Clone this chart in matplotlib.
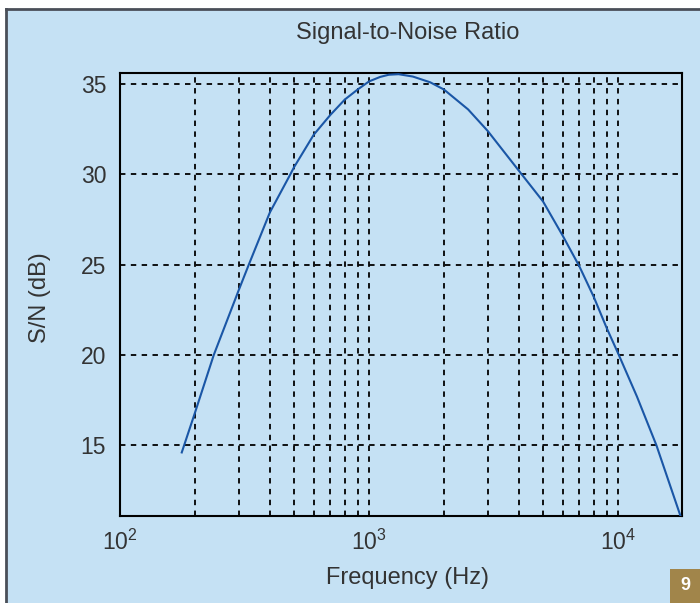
import matplotlib
matplotlib.use("Agg")
import matplotlib.pyplot as plt
from matplotlib.patches import Rectangle
from matplotlib.lines import Line2D

plt.rcParams['font.family'] = ['Liberation Sans', 'DejaVu Sans']
plt.rcParams['mathtext.fontset'] = 'custom'
plt.rcParams['mathtext.rm'] = 'Liberation Sans'
plt.rcParams['mathtext.it'] = 'Liberation Sans'

# values
freq_hz = [177, 200, 238, 300, 329, 400, 483, 500, 600, 700, 800, 900, 1000,
           1109, 1200, 1315, 1500, 1762, 2000, 2500, 3000, 4000, 5000, 6000,
           7000, 8000, 9000, 10000, 11910, 14260, 17800]
snr_db = [14.6, 16.8, 20.0, 23.6, 25.0, 27.9, 30.0, 30.4, 32.2, 33.3, 34.15,
          34.7, 35.15, 35.4, 35.52, 35.55, 35.42, 35.1, 34.7, 33.6, 32.4, 30.2,
          28.5, 26.6, 24.9, 23.2, 21.5, 20.1, 17.7, 15.0, 11.1]
y_ticks = [15, 20, 25, 30, 35]
x_ticks = [100, 1000, 10000]
x_tick_labels = [r'$10^2$', r'$10^3$', r'$10^4$']

bg = '#c5e1f4'
txt = '#333333'

fig = plt.figure(figsize=(7, 6.03), dpi=100)
fig.patch.set_facecolor('white')
fig.patches.append(Rectangle((6/700, 0), 1, 1 - 9/603, transform=fig.transFigure,
                             facecolor=bg, edgecolor='none', zorder=-2))
fig.lines.append(Line2D([6/700, 6/700], [0, 1 - 9/603], transform=fig.transFigure,
                        color='#4a4f58', lw=2))
fig.lines.append(Line2D([6/700, 1], [1 - 9/603, 1 - 9/603], transform=fig.transFigure,
                        color='#4a4f58', lw=2))
fig.patches.append(Rectangle((670/700, 0), 30/700, 34/603, transform=fig.transFigure,
                             facecolor='#a1854a', edgecolor='none'))
fig.text(685/700, 17/603, '9', color='white', fontsize=13, fontweight='bold',
         ha='center', va='center')

ax = fig.add_axes([120/700, 1 - 516/603, 562/700, 442.7/603])
ax.set_facecolor(bg)
ax.plot(freq_hz, snr_db, color='#1a56a6', lw=1.5, zorder=3)
ax.set_xscale('log')
ax.set_xlim(100, 18070)
ax.set_ylim(11.08, 35.6)
ax.set_yticks(y_ticks)
ax.set_xticks(x_ticks)
ax.set_xticklabels(x_tick_labels)
ax.tick_params(axis='both', which='both', length=0, labelsize=16.5, labelcolor=txt, pad=10)
ax.tick_params(axis='x', pad=10)
ax.grid(True, which='both', axis='x', color='black', ls=(0, (3, 3)), lw=1.3)
ax.grid(True, which='major', axis='y', color='black', ls=(0, (3, 3)), lw=1.3)
for s in ax.spines.values():
    s.set_linewidth(1.5)

fig.text(408/700, 1 - 33/603, 'Signal-to-Noise Ratio', ha='center', va='center',
         fontsize=17, color=txt)
fig.text(408/700, 1 - 578/603, 'Frequency (Hz)', ha='center', va='center',
         fontsize=17, color=txt)
fig.text(40/700, 1 - 298/603, 'S/N (dB)', ha='center', va='center',
         fontsize=17, color=txt, rotation=90)

fig.savefig('out.png', dpi=100, facecolor=fig.get_facecolor())
